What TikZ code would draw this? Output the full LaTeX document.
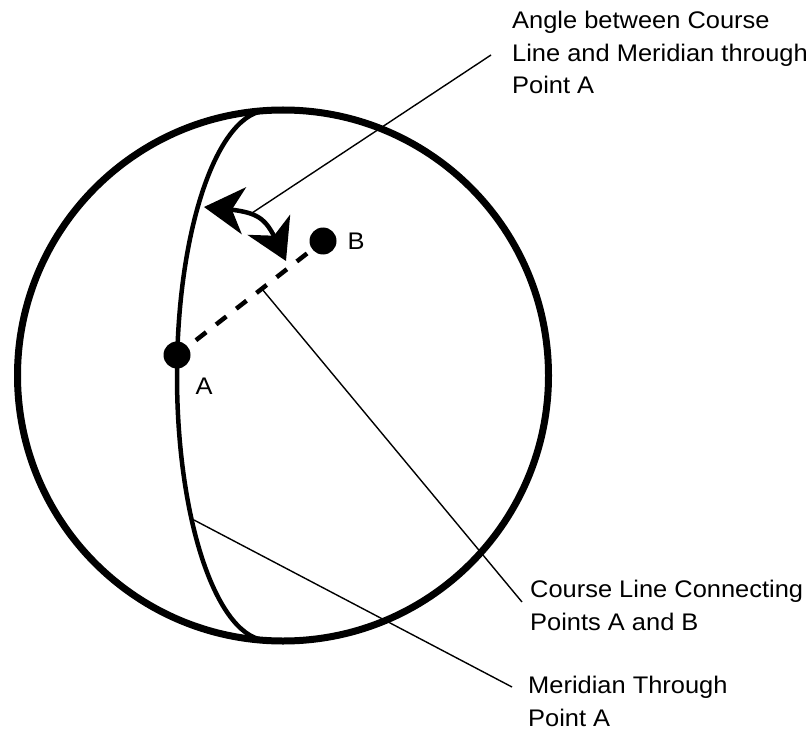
\documentclass[tikz,border=0pt]{standalone}
\usepackage{fontspec}
\setmainfont{Liberation Sans}[FakeStretch=1.06]
\usetikzlibrary{arrows.meta,bending}

\begin{document}
\begin{tikzpicture}[x=1pt,y=-1pt,font=\fontsize{24}{32.5}\selectfont,
    >={Stealth[length=40pt,width=47pt,inset=12pt]},
    globe/.style={line width=7pt},
    meridian/.style={line width=4.5pt},
    course/.style={line width=4.5pt,dash pattern=on 13pt off 12.6pt,dash phase=1.6pt},
    turn/.style={<->,line width=4.5pt},
    dot/.style={circle,fill,inner sep=0pt,minimum size=27pt},
    leader/.style={line width=1.4pt},
    callout/.style={anchor=base west,align=left,inner sep=0pt}]
  \useasboundingbox (0,0) rectangle (811,730);
  % sphere and meridian through A
  \coordinate (o) at (283,375.5);
  \coordinate (npole) at (268,110.5);
  \draw[globe] (o) circle[radius=265.5];
  \draw[meridian] (npole) arc[start angle=270,end angle=90,x radius=91,y radius=265];
  % course line A -- B
  \coordinate (pA) at (177,355);
  \coordinate (pB) at (323,241);
  \draw[course] (pA) -- (pB);
  \node[dot] (A) at (pA) {};
  \node[dot] (B) at (pB) {};
  \node (la) at (204,386) {A};
  \node (lb) at (356,241) {B};
  % angle arrow
  \coordinate (a1) at (204,207);
  \coordinate (a2) at (286,261);
  \draw[turn] (a1) .. controls (266,212) and (264,214) .. (a2);
  % callouts (base = last line)
  \node[callout] (angtxt) at (512,94) {Angle between Course\\Line and Meridian through\\Point A};
  \node[callout] (crstxt) at (530,630) {Course Line Connecting\\Points A and B};
  \node[callout] (mertxt) at (528,726) {Meridian Through\\Point A};
  \coordinate (angfoot) at (252,213);
  \coordinate (angend) at (491,55);
  \coordinate (crsfoot) at (262,289);
  \coordinate (crsend) at (522,602);
  \coordinate (merfoot) at (194,520);
  \coordinate (merend) at (512,687);
  \draw[leader] (angfoot) -- (angend);
  \draw[leader] (crsfoot) -- (crsend);
  \draw[leader] (merfoot) -- (merend);
\end{tikzpicture}
\end{document}
